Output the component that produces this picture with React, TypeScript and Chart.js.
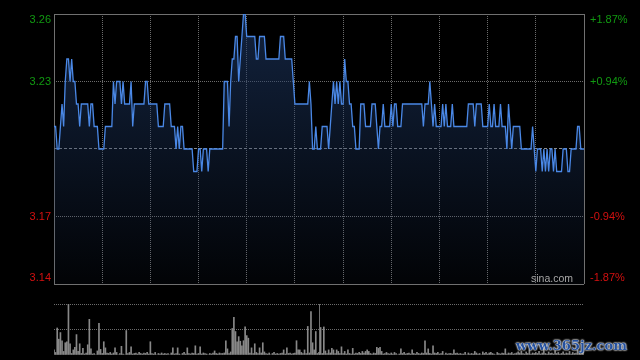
import React, { useEffect, useRef } from 'react';
import { Chart, registerables } from 'chart.js';

Chart.register(...registerables);

// ---- data ----
const PREV_CLOSE = 3.2;
const PRICE_MIN = 3.14;
const PRICE_MAX = 3.26;
const PRICE_GRID = [3.14, 3.17, 3.2, 3.23, 3.26];
const LEFT_VALUES = [3.26, 3.23, 3.17, 3.14];
const LEFT_LABELS = ['3.26', '3.23', '3.17', '3.14'];
const RIGHT_LABELS = ['+1.87%', '+0.94%', '-0.94%', '-1.87%'];
const TIME_GRID = [0, 30, 60, 90, 120, 150, 180, 210, 240, 270, 300, 330];
const VOLUME_GRID = [0, 50, 100];
const VOLUME_MAX = 100;

const prices = [
  3.21, 3.21, 3.2, 3.2, 3.21, 3.22, 3.21, 3.23, 3.24, 3.24,
  3.23, 3.24, 3.23, 3.23, 3.22, 3.22, 3.21, 3.22, 3.22, 3.22,
  3.22, 3.22, 3.21, 3.22, 3.22, 3.21, 3.21, 3.21, 3.2, 3.2,
  3.2, 3.2, 3.21, 3.21, 3.21, 3.21, 3.21, 3.23, 3.22, 3.23,
  3.23, 3.23, 3.22, 3.23, 3.22, 3.22, 3.22, 3.22, 3.23, 3.21,
  3.22, 3.22, 3.22, 3.22, 3.22, 3.22, 3.22, 3.23, 3.23, 3.22,
  3.22, 3.22, 3.22, 3.22, 3.22, 3.21, 3.21, 3.21, 3.21, 3.22,
  3.22, 3.22, 3.22, 3.21, 3.21, 3.21, 3.2, 3.21, 3.2, 3.21,
  3.21, 3.2, 3.2, 3.2, 3.2, 3.2, 3.2, 3.19, 3.19, 3.19,
  3.2, 3.2, 3.19, 3.2, 3.2, 3.2, 3.19, 3.2, 3.2, 3.2,
  3.2, 3.2, 3.2, 3.2, 3.2, 3.2, 3.23, 3.23, 3.23, 3.21,
  3.23, 3.24, 3.24, 3.25, 3.25, 3.23, 3.24, 3.25, 3.26, 3.26,
  3.25, 3.25, 3.25, 3.25, 3.25, 3.25, 3.24, 3.24, 3.25, 3.25,
  3.25, 3.25, 3.24, 3.24, 3.24, 3.24, 3.24, 3.24, 3.24, 3.24,
  3.24, 3.25, 3.25, 3.25, 3.24, 3.24, 3.24, 3.24, 3.24, 3.23,
  3.22, 3.22, 3.22, 3.22, 3.22, 3.22, 3.22, 3.22, 3.22, 3.23,
  3.22, 3.2, 3.2, 3.21, 3.2, 3.2, 3.2, 3.21, 3.21, 3.21,
  3.21, 3.2, 3.21, 3.22, 3.23, 3.22, 3.23, 3.22, 3.23, 3.22,
  3.22, 3.24, 3.23, 3.23, 3.22, 3.22, 3.21, 3.21, 3.2, 3.2,
  3.2, 3.22, 3.22, 3.22, 3.21, 3.21, 3.21, 3.21, 3.22, 3.22,
  3.22, 3.21, 3.2, 3.21, 3.21, 3.22, 3.21, 3.21, 3.21, 3.21,
  3.22, 3.21, 3.22, 3.22, 3.21, 3.21, 3.21, 3.22, 3.22, 3.22,
  3.22, 3.22, 3.22, 3.22, 3.22, 3.22, 3.22, 3.22, 3.22, 3.22,
  3.21, 3.22, 3.22, 3.22, 3.23, 3.22, 3.21, 3.22, 3.21, 3.21,
  3.21, 3.21, 3.22, 3.21, 3.22, 3.21, 3.21, 3.21, 3.22, 3.21,
  3.21, 3.21, 3.21, 3.21, 3.21, 3.21, 3.21, 3.21, 3.22, 3.22,
  3.22, 3.22, 3.21, 3.22, 3.22, 3.22, 3.22, 3.21, 3.21, 3.21,
  3.21, 3.22, 3.21, 3.21, 3.22, 3.21, 3.21, 3.21, 3.22, 3.21,
  3.21, 3.21, 3.2, 3.22, 3.21, 3.2, 3.21, 3.21, 3.21, 3.21,
  3.21, 3.2, 3.2, 3.2, 3.2, 3.2, 3.2, 3.2, 3.21, 3.2,
  3.19, 3.2, 3.2, 3.2, 3.19, 3.2, 3.19, 3.2, 3.19, 3.2,
  3.2, 3.19, 3.2, 3.19, 3.19, 3.19, 3.19, 3.2, 3.2, 3.2,
  3.19, 3.19, 3.2, 3.2, 3.2, 3.2, 3.21, 3.21, 3.2, 3.2, 3.2,
];

const volumes = [
  10, 5, 53, 31, 44, 28, 7, 24, 26, 100,
  22, 3, 10, 15, 40, 7, 22, 3, 13, 2,
  4, 20, 70, 12, 2, 3, 0, 8, 62, 11,
  3, 26, 14, 4, 3, 5, 2, 4, 14, 5,
  0, 3, 17, 2, 0, 48, 3, 5, 16, 2,
  3, 4, 2, 5, 3, 2, 4, 3, 5, 2,
  26, 3, 2, 5, 0, 3, 2, 4, 2, 3,
  2, 3, 0, 4, 14, 2, 3, 14, 2, 0,
  3, 5, 2, 14, 3, 2, 4, 3, 18, 2,
  3, 16, 2, 4, 3, 2, 0, 3, 2, 4,
  8, 3, 2, 4, 3, 3, 4, 28, 12, 3,
  6, 52, 74, 46, 26, 36, 27, 18, 28, 55,
  38, 33, 4, 14, 3, 22, 5, 3, 14, 4,
  24, 6, 3, 2, 4, 0, 3, 5, 2, 3,
  2, 3, 4, 10, 2, 14, 3, 4, 2, 3,
  4, 28, 10, 10, 5, 3, 10, 3, 56, 4,
  85, 24, 10, 46, 3, 5, 54, 3, 55, 8,
  3, 10, 4, 13, 10, 3, 10, 7, 3, 16,
  3, 7, 2, 10, 3, 2, 13, 2, 4, 3,
  5, 3, 7, 4, 7, 10, 7, 3, 2, 4,
  3, 15, 13, 15, 7, 2, 3, 5, 3, 2,
  4, 2, 5, 3, 0, 2, 12, 3, 5, 2,
  3, 4, 2, 10, 3, 2, 5, 3, 2, 4,
  3, 28, 4, 12, 3, 2, 18, 4, 3, 5,
  2, 3, 7, 0, 4, 2, 3, 3, 2, 10,
  3, 4, 2, 3, 2, 2, 5, 0, 4, 2,
  3, 2, 7, 4, 2, 3, 0, 6, 3, 5,
  2, 4, 5, 3, 2, 0, 5, 3, 2, 4,
  3, 12, 2, 4, 3, 5, 2, 3, 4, 6,
  4, 8, 3, 2, 6, 3, 10, 2, 4, 3,
  5, 3, 7, 2, 4, 12, 3, 2, 6, 3,
  4, 2, 8, 3, 5, 2, 3, 6, 2, 4,
  3, 7, 2, 5, 3, 4, 9, 3, 2, 6, 14,
];

// ---- styles ----
const GREEN = '#119a11';
const RED = '#d41010';
const FRAME = '#707070';
const DOT = '#6c6c6c';
const BASE = '#8c8c8c';
const LINE = '#4a88e6';
const FONT = '11px "Liberation Sans", Arial, sans-serif';

const W = 640;
const H = 360;

const sideLabels = {
  id: 'sideLabels',
  afterDraw(chart: any) {
    const { ctx, chartArea, scales } = chart;
    const y = scales.y;
    ctx.save();
    ctx.font = FONT;
    ctx.textBaseline = 'middle';
    LEFT_VALUES.forEach((v, i) => {
      let py = y.getPixelForValue(v);
      py = Math.min(Math.max(py, chartArea.top + 6), chartArea.bottom - 6.5);
      ctx.fillStyle = v > PREV_CLOSE ? GREEN : RED;
      ctx.textAlign = 'right';
      ctx.fillText(LEFT_LABELS[i], chartArea.left - 3, py);
      ctx.textAlign = 'left';
      ctx.fillText(RIGHT_LABELS[i], chartArea.right + 6, py);
    });
    ctx.font = '10.5px "Liberation Sans", Arial, sans-serif';
    ctx.fillStyle = '#a8a8a8';
    ctx.textAlign = 'right';
    ctx.fillText('sina.com', chartArea.right - 11, chartArea.bottom - 5);
    ctx.restore();
  },
};

export default function App() {
  const priceRef = useRef<HTMLCanvasElement>(null);
  const volRef = useRef<HTMLCanvasElement>(null);

  useEffect(() => {
    const isEdgeX = (v: number) => v === TIME_GRID[0] || v === TIME_GRID[TIME_GRID.length - 1];
    const xTimeScale = (showInner: boolean) => ({
      type: 'linear' as const,
      min: TIME_GRID[0],
      max: TIME_GRID[TIME_GRID.length - 1],
      offset: false,
      afterBuildTicks: (s: any) => {
        s.ticks = TIME_GRID.filter((v) => showInner || isEdgeX(v)).map((v) => ({ value: v }));
      },
      afterFit: (s: any) => {
        s.height = 0;
      },
      ticks: { display: false },
      grid: {
        drawTicks: false,
        lineWidth: 1,
        color: (c: any) => (isEdgeX(c.tick?.value) ? FRAME : DOT),
      },
      border: {
        display: false,
        dash: (c: any) => (isEdgeX(c.tick?.value) ? [] : [1, 1]),
      },
    });

    const priceChart = new Chart(priceRef.current as HTMLCanvasElement, {
      type: 'line',
      data: {
        datasets: [
          {
            data: prices.map((p, i) => ({ x: i, y: p })),
            borderColor: LINE,
            borderWidth: 1.3,
            pointRadius: 0,
            tension: 0,
            fill: 'start',
            backgroundColor: (c: any) => {
              const ca = c.chart.chartArea;
              if (!ca) return 'rgba(0,0,0,0)';
              const g = c.chart.ctx.createLinearGradient(0, ca.top, 0, ca.bottom);
              g.addColorStop(0, 'rgba(30,56,100,0.62)');
              g.addColorStop(1, 'rgba(30,56,100,0.06)');
              return g;
            },
          },
        ],
      },
      options: {
        animation: false,
        responsive: false,
        events: [],
        layout: { padding: { top: 14, bottom: H - 284, left: 0, right: W - 584 } },
        plugins: { legend: { display: false }, tooltip: { enabled: false } },
        scales: {
          x: xTimeScale(true) as any,
          y: {
            min: PRICE_MIN,
            max: PRICE_MAX,
            afterBuildTicks: (s: any) => {
              s.ticks = PRICE_GRID.map((v) => ({ value: v }));
            },
            afterFit: (s: any) => {
              s.width = 54;
            },
            ticks: { display: false },
            grid: {
              drawTicks: false,
              lineWidth: 1,
              color: (c: any) => {
                const v = c.tick?.value;
                if (v === PREV_CLOSE) return BASE;
                if (v === PRICE_MIN || v === PRICE_MAX) return FRAME;
                return DOT;
              },
            },
            border: {
              display: false,
              dash: (c: any) => {
                const v = c.tick?.value;
                if (v === PREV_CLOSE) return [3, 2];
                if (v === PRICE_MIN || v === PRICE_MAX) return [];
                return [1, 1];
              },
            },
          } as any,
        },
      },
      plugins: [sideLabels],
    });

    const volChart = new Chart(volRef.current as HTMLCanvasElement, {
      type: 'bar',
      data: {
        datasets: [
          {
            data: volumes.map((v, i) => ({ x: i, y: v })),
            backgroundColor: '#888888',
            borderWidth: 0,
            barThickness: 1,
          },
        ],
      },
      options: {
        animation: false,
        responsive: false,
        events: [],
        layout: { padding: { top: 304, bottom: 5, left: 0, right: W - 584 } },
        plugins: { legend: { display: false }, tooltip: { enabled: false } },
        scales: {
          x: xTimeScale(false) as any,
          y: {
            min: 0,
            max: VOLUME_MAX,
            afterBuildTicks: (s: any) => {
              s.ticks = VOLUME_GRID.map((v) => ({ value: v }));
            },
            afterFit: (s: any) => {
              s.width = 54;
            },
            ticks: { display: false },
            grid: {
              drawTicks: false,
              lineWidth: 1,
              color: (c: any) => (c.tick?.value === 0 ? 'rgba(0,0,0,0)' : DOT),
            },
            border: { display: false, dash: [1, 1] },
          } as any,
        },
      },
    });

    return () => {
      priceChart.destroy();
      volChart.destroy();
    };
  }, []);

  return (
    <div
      style={{
        position: 'absolute',
        left: 0,
        top: 0,
        width: W,
        height: H,
        background: '#000',
        overflow: 'hidden',
      }}
    >
      <canvas ref={priceRef} width={W} height={H} style={{ position: 'absolute', left: 0, top: 0 }} />
      <canvas ref={volRef} width={W} height={H} style={{ position: 'absolute', left: 0, top: 0 }} />
      <div
        style={{
          position: 'absolute',
          left: 516,
          top: 336,
          fontFamily: '"DejaVu Serif", serif',
          fontWeight: 'bold',
          fontSize: 13,
          color: '#24509e',
          textShadow: '0 0 2px #fff, 0 0 2px #fff, 0 0 1px #ddd',
          whiteSpace: 'nowrap',
          lineHeight: '20px',
        }}
      >
        www.365jz.com
      </div>
    </div>
  );
}
